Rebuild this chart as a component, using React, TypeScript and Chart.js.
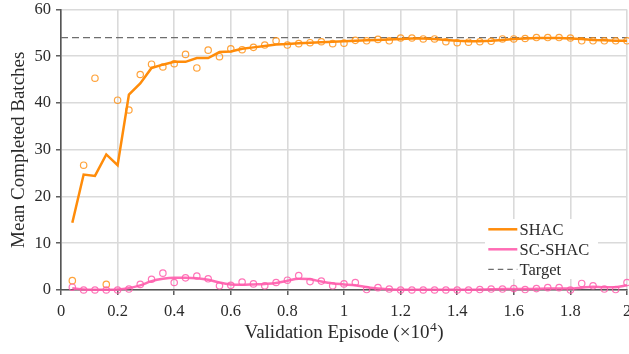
import React, { useEffect, useRef } from 'react';
import { Chart, registerables } from 'chart.js';

Chart.register(...registerables);

// Validation episode (x10^4)
const episodes = [
  0.04, 0.08, 0.12, 0.16, 0.2, 0.24, 0.28, 0.32, 0.36, 0.4,
  0.44, 0.48, 0.52, 0.56, 0.6, 0.64, 0.68, 0.72, 0.76, 0.8,
  0.84, 0.88, 0.92, 0.96, 1.0, 1.04, 1.08, 1.12, 1.16, 1.2,
  1.24, 1.28, 1.32, 1.36, 1.4, 1.44, 1.48, 1.52, 1.56, 1.6,
  1.64, 1.68, 1.72, 1.76, 1.8, 1.84, 1.88, 1.92, 1.96, 2.0,
];

const shacMean = [
  14.4, 24.7, 24.4, 29.0, 26.7, 41.8, 44.2, 47.5, 48.2, 48.8,
  48.8, 49.6, 49.6, 50.9, 51.0, 51.6, 51.9, 52.2, 52.5, 52.6,
  52.8, 52.9, 53.0, 53.1, 53.2, 53.3, 53.4, 53.5, 53.6, 53.7,
  53.8, 53.8, 53.7, 53.5, 53.3, 53.2, 53.2, 53.3, 53.5, 53.7,
  53.8, 53.9, 53.9, 53.9, 53.8, 53.7, 53.5, 53.4, 53.3, 53.3,
];

const shacRaw = [
  2.0, 26.7, 45.3, 1.2, 40.6, 38.5, 46.1, 48.3, 47.7, 48.4,
  50.4, 47.5, 51.3, 49.9, 51.6, 51.4, 51.9, 52.4, 53.3, 52.4,
  52.7, 52.9, 53.1, 52.7, 52.8, 53.4, 53.3, 53.6, 53.3, 53.9,
  53.9, 53.7, 53.7, 53.1, 52.9, 53.0, 53.1, 53.2, 53.7, 53.7,
  53.8, 54.0, 54.0, 54.0, 53.9, 53.3, 53.3, 53.3, 53.3, 53.3,
];

const scShacMean = [
  0.4, 0.1, 0.05, 0.05, 0.1, 0.4, 1.0, 1.9, 2.4, 2.6,
  2.6, 2.5, 2.2, 1.6, 1.2, 1.1, 1.2, 1.3, 1.5, 2.0,
  2.4, 2.3, 1.8, 1.4, 1.2, 1.0, 0.6, 0.3, 0.15, 0.05,
  0.05, 0.05, 0.05, 0.05, 0.05, 0.05, 0.1, 0.15, 0.2, 0.2,
  0.2, 0.25, 0.3, 0.3, 0.3, 0.5, 0.7, 0.6, 0.6, 1.0,
];

const scShacRaw = [
  0.6, 0, 0, 0, 0, 0.2, 1.2, 2.3, 3.6, 1.6,
  2.6, 3.0, 2.4, 0.9, 1.0, 1.7, 1.3, 0.9, 1.6, 2.1,
  3.1, 1.8, 1.9, 0.9, 1.3, 1.6, 0.1, 0.5, 0.2, 0,
  0, 0, 0, 0, 0, 0, 0.1, 0.2, 0.2, 0.3,
  0.1, 0.3, 0.5, 0.5, 0, 1.4, 0.9, 0.2, 0.1, 1.6,
];

const targetValue = 54;
const xRange = [0, 2];
const yRange = [0, 60];

const legendLabels = ['SHAC', 'SC-SHAC', 'Target'];
const yTitle = 'Mean Completed Batches';
const xTitleMain = 'Validation Episode (\u00d710';
const xTitleSup = '4';
const xTitleEnd = ')';

const ORANGE = '#ff8c0a';
const ORANGE_PT = 'rgba(255,140,10,0.8)';
const PINK = 'rgba(255,92,172,0.9)';
const PINK_PT = 'rgba(255,92,172,0.85)';
const GREY = '#6e6e6e';
const SERIF = '"Liberation Serif", "Times New Roman", serif';
const TEXT = '#2b2b2b';

const toPts = (ys: number[]) => episodes.map((x, i) => ({ x, y: ys[i] }));

const overlayPlugin = {
  id: 'overlay',
  afterDatasetsDraw(chart: any) {
    const { ctx, chartArea } = chart;
    const r = chartArea.right;
    const b = chartArea.bottom;
    ctx.save();
    ctx.fillStyle = '#ffffff';
    ctx.fillRect(r - 142, b - 71, 113, 60);
    const rows = [
      { label: legendLabels[0], color: ORANGE, dash: [] as number[], w: 2.5 },
      { label: legendLabels[1], color: PINK, dash: [] as number[], w: 2.5 },
      { label: legendLabels[2], color: GREY, dash: [5.5, 4], w: 1.3 },
    ];
    rows.forEach((row, i) => {
      const y = b - 60.7 + i * 20;
      ctx.beginPath();
      ctx.setLineDash(row.dash);
      ctx.strokeStyle = row.color;
      ctx.lineWidth = row.w;
      ctx.moveTo(r - 138.7, y);
      ctx.lineTo(r - 109.7, y);
      ctx.stroke();
      ctx.setLineDash([]);
      ctx.fillStyle = TEXT;
      ctx.font = `16.5px ${SERIF}`;
      ctx.textAlign = 'left';
      ctx.textBaseline = 'middle';
      ctx.fillText(row.label, r - 107.5, y + 1);
    });
    ctx.restore();
  },
  afterDraw(chart: any) {
    const { ctx, chartArea } = chart;
    const cx = (chartArea.left + chartArea.right) / 2;
    const base = 337.5;
    ctx.save();
    ctx.fillStyle = TEXT;
    ctx.textBaseline = 'alphabetic';
    ctx.textAlign = 'left';
    const mainFont = `19px ${SERIF}`;
    const supFont = `13.5px ${SERIF}`;
    ctx.font = mainFont;
    const w1 = ctx.measureText(xTitleMain).width;
    const w3 = ctx.measureText(xTitleEnd).width;
    ctx.font = supFont;
    const w2 = ctx.measureText(xTitleSup).width;
    const total = w1 + w2 + 1 + w3;
    let x = cx - total / 2;
    ctx.font = mainFont;
    ctx.fillText(xTitleMain, x, base);
    x += w1 + 0.5;
    ctx.font = supFont;
    ctx.fillText(xTitleSup, x, base - 7);
    x += w2 + 0.5;
    ctx.font = mainFont;
    ctx.fillText(xTitleEnd, x, base);
    ctx.restore();
  },
};

export default function App() {
  const ref = useRef<HTMLCanvasElement | null>(null);

  useEffect(() => {
    document.body.style.margin = '0';
    document.body.style.overflow = 'hidden';
    const canvas = ref.current;
    if (!canvas) return;
    const chart = new Chart(canvas, {
      type: 'line',
      data: {
        datasets: [
          {
            label: 'SHAC raw',
            data: toPts(shacRaw),
            showLine: false,
            pointRadius: 3.2,
            pointBorderWidth: 1.2,
            pointBackgroundColor: 'rgba(0,0,0,0)',
            pointBorderColor: ORANGE_PT,
            borderColor: ORANGE_PT,
            clip: false as any,
            order: 2,
          },
          {
            label: legendLabels[0],
            data: toPts(shacMean),
            borderColor: ORANGE,
            borderWidth: 2.5,
            pointRadius: 0,
            tension: 0,
            clip: false as any,
            order: 3,
          },
          {
            label: 'SC-SHAC raw',
            data: toPts(scShacRaw),
            showLine: false,
            pointRadius: 3.2,
            pointBorderWidth: 1.2,
            pointBackgroundColor: 'rgba(0,0,0,0)',
            pointBorderColor: PINK_PT,
            borderColor: PINK_PT,
            clip: false as any,
            order: 0,
          },
          {
            label: legendLabels[1],
            data: toPts(scShacMean),
            borderColor: PINK,
            borderWidth: 2.5,
            pointRadius: 0,
            cubicInterpolationMode: 'monotone',
            clip: false as any,
            order: 1,
          },
          {
            label: legendLabels[2],
            data: [
              { x: xRange[0], y: targetValue },
              { x: xRange[1], y: targetValue },
            ],
            borderColor: GREY,
            borderWidth: 1.3,
            borderDash: [7, 4],
            pointRadius: 0,
            order: 4,
          },
        ],
      },
      options: {
        responsive: false,
        animation: false,
        layout: { padding: { top: 0, right: 13, left: 0, bottom: 0 } },
        plugins: {
          legend: { display: false },
          tooltip: { enabled: false },
        },
        scales: {
          x: {
            type: 'linear',
            min: xRange[0],
            max: xRange[1],
            afterFit: (s: any) => { s.height = 64; },
            ticks: {
              stepSize: 0.2,
              padding: 7,
              color: TEXT,
              font: { family: SERIF, size: 16.5 },
              callback: (v: any) => String(Number(Number(v).toFixed(1))),
              maxRotation: 0,
              autoSkip: false,
            },
            grid: {
              color: '#dadada',
              lineWidth: 1.6,
              tickColor: '#444',
              tickLength: 5,
              tickWidth: 1.3,
            },
            border: { color: '#555', width: 1.6 },
          },
          y: {
            type: 'linear',
            min: yRange[0],
            max: yRange[1],
            afterFit: (s: any) => {
              s.width = 61;
              s.paddingTop = 9.5;
              s.paddingBottom = 0;
            },
            ticks: {
              stepSize: 10,
              padding: 5,
              color: TEXT,
              font: { family: SERIF, size: 16.5 },
            },
            grid: {
              color: '#dadada',
              lineWidth: 1.6,
              tickColor: '#444',
              tickLength: 5,
              tickWidth: 1.3,
            },
            border: { color: '#555', width: 1.6 },
            title: {
              display: true,
              text: yTitle,
              color: TEXT,
              font: { family: SERIF, size: 19 },
              padding: { top: 7.5, bottom: 0 },
            },
          },
        },
      },
      plugins: [overlayPlugin],
    });
    return () => chart.destroy();
  }, []);

  return (
    <div style={{ position: 'fixed', left: 0, top: 0 }}>
      <canvas ref={ref} width={640} height={354} style={{ display: 'block', width: 640, height: 354 }} />
    </div>
  );
}
